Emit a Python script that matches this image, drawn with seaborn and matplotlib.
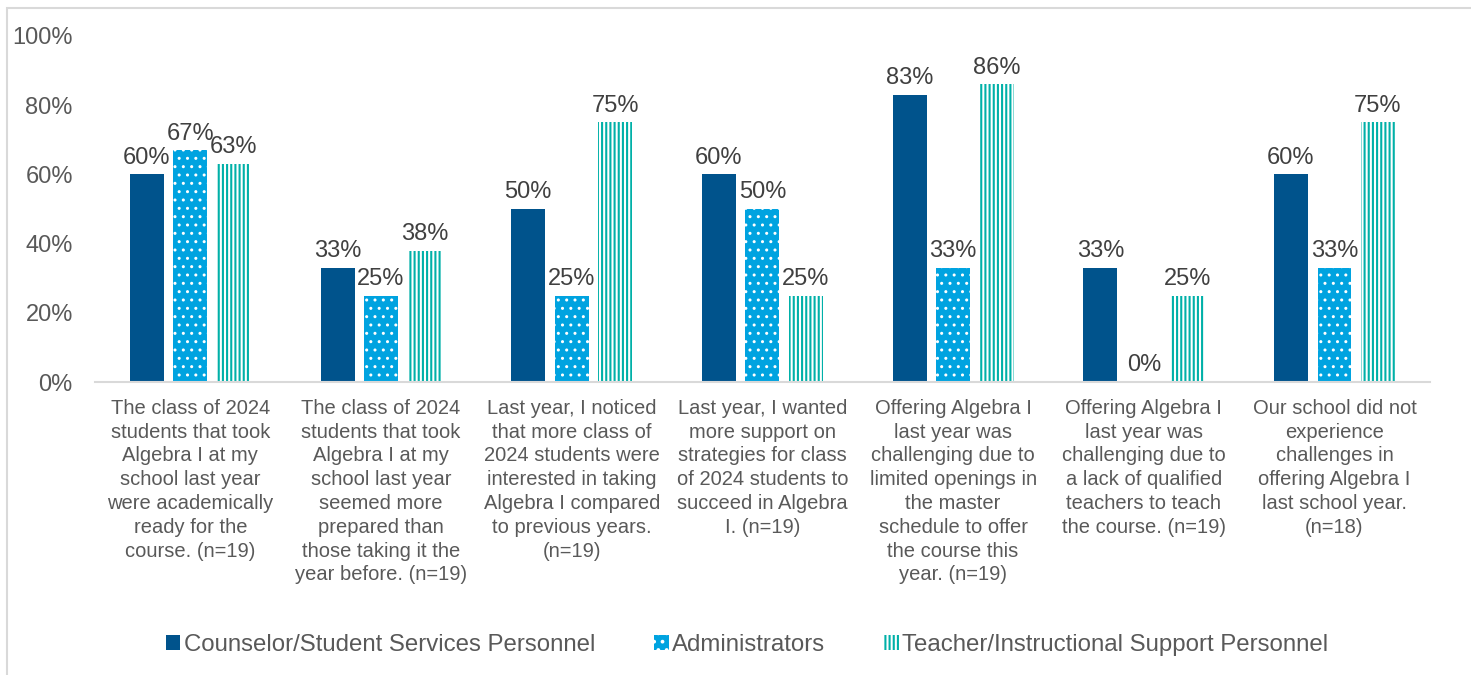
import matplotlib.pyplot as plt
import matplotlib.patches as mpatches
import seaborn as sns
import pandas as pd

# ==============================
# Data
# ==============================
categories = [
    "The class of 2024\nstudents that took\nAlgebra I at my\nschool last year\nwere academically\nready for the\ncourse. (n=19)",
    "The class of 2024\nstudents that took\nAlgebra I at my\nschool last year\nseemed more\nprepared than\nthose taking it the\nyear before. (n=19)",
    "Last year, I noticed\nthat more class of\n2024 students were\ninterested in taking\nAlgebra I compared\nto previous years.\n(n=19)",
    "Last year, I wanted\nmore support on\nstrategies for class\nof 2024 students to\nsucceed in Algebra\nI. (n=19)",
    "Offering Algebra I\nlast year was\nchallenging due to\nlimited openings in\nthe master\nschedule to offer\nthe course this\nyear. (n=19)",
    "Offering Algebra I\nlast year was\nchallenging due to\na lack of qualified\nteachers to teach\nthe course. (n=19)",
    "Our school did not\nexperience\nchallenges in\noffering Algebra I\nlast school year.\n(n=18)",
]
groups = ["Counselor/Student Services Personnel", "Administrators",
          "Teacher/Instructional Support Personnel"]
counselor = [60, 33, 50, 60, 83, 33, 60]
administrators = [67, 25, 25, 50, 33, 0, 33]
teachers = [63, 38, 75, 25, 86, 25, 75]
y_ticks = [0, 20, 40, 60, 80, 100]

DARK = "#00538C"
LIGHT = "#00A3E0"
TEAL = "#00B0A8"
GRAY = "#595959"

df = pd.DataFrame({
    "category": categories * 3,
    "group": [g for g in groups for _ in categories],
    "value": counselor + administrators + teachers,
})

sns.set_style("white")
plt.rcParams["font.family"] = ["Liberation Sans", "DejaVu Sans"]
plt.rcParams["hatch.linewidth"] = 1.5

fig, ax = plt.subplots(figsize=(14.71, 6.75), dpi=100)
fig.subplots_adjust(left=0.0646, right=0.972, top=0.9467, bottom=0.434)

sns.barplot(data=df, x="category", y="value", hue="group", hue_order=groups,
            palette=[DARK, LIGHT, TEAL], width=0.684, gap=0.22,
            ax=ax, legend=False)

# styles per series
styles = [
    dict(facecolor=DARK, edgecolor=DARK, hatch=None, hlw=1.0),
    dict(facecolor=LIGHT, edgecolor="white", hatch="..", hlw=1.0),
    dict(facecolor="white", edgecolor=TEAL, hatch="||||", hlw=1.5),
]
for container, st in zip(ax.containers, styles):
    for bar in container:
        bar.set_facecolor(st["facecolor"])
        bar.set_edgecolor(st["edgecolor"])
        bar.set_linewidth(0)
        if st["hatch"]:
            bar.set_hatch(st["hatch"])
            if hasattr(bar, "set_hatch_linewidth"):
                bar.set_hatch_linewidth(st["hlw"])
    ax.bar_label(container, labels=[f"{v:.0f}%" for v in container.datavalues],
                 padding=4, fontsize=17, color="#404040")

ax.set_ylim(0, 100)
ax.set_yticks(y_ticks)
ax.set_yticklabels([f"{t}%" for t in y_ticks], fontsize=17, color=GRAY)
ax.set_xlim(-0.5, len(categories) - 0.5)
ax.tick_params(axis="x", labelsize=14.5, labelcolor=GRAY, length=0, pad=12)
ax.tick_params(axis="y", length=0, pad=16)
for lab in ax.get_xticklabels():
    lab.set_linespacing(1.32)
ax.set_xlabel("")
ax.set_ylabel("")
for s in ["top", "right", "left"]:
    ax.spines[s].set_visible(False)
ax.spines["bottom"].set_color("#D9D9D9")
ax.spines["bottom"].set_linewidth(1.5)

# legend
handles = [
    mpatches.Patch(facecolor=DARK, edgecolor=DARK, linewidth=0),
    mpatches.Patch(facecolor=LIGHT, edgecolor="white", hatch="..", linewidth=0),
    mpatches.Patch(facecolor="white", edgecolor=TEAL, hatch="||||", linewidth=0),
]
fig.legend(handles, groups, loc="center", bbox_to_anchor=(0.508, 0.045),
           ncol=3, frameon=False, fontsize=17.3, labelcolor=GRAY,
           handlelength=0.6, handleheight=0.6, handletextpad=0.15,
           columnspacing=2.45)

# chart frame
frame = mpatches.Rectangle((7 / 1471, -0.05), 1.2, 1 - 8 / 675 + 0.05,
                           transform=fig.transFigure, fill=False,
                           edgecolor="#D9D9D9", linewidth=1.5)
fig.patches.append(frame)

fig.savefig("out.png", dpi=100)
plt.close(fig)
